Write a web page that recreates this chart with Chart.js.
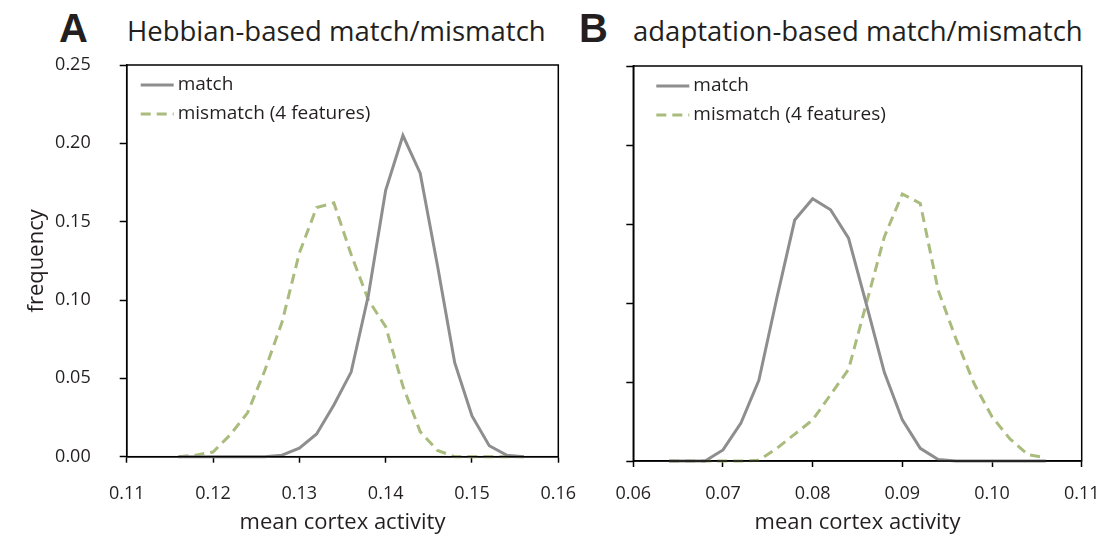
<!DOCTYPE html>
<html>
<head>
<meta charset="utf-8">
<script src="https://cdn.jsdelivr.net/npm/chart.js@4.4.1/dist/chart.umd.min.js"></script>
<style>
  body { margin: 0; background: #fff; width: 1104px; height: 537px; overflow: hidden; position: relative; font-family: "Open Sans", sans-serif; color: #231f20; }
  .panel { position: absolute; top: 0; height: 537px; }
  .letter { position: absolute; font-family: "Liberation Sans", Arial, sans-serif; font-weight: bold; font-size: 40px; line-height: 1.149; top: 6px; }
  .heading { position: absolute; font-size: 27.5px; line-height: 1.362; top: 12px; white-space: nowrap; }
</style>
</head>
<body>
<div class="letter" style="left:59px">A</div>
<div class="heading" style="left:127px">Hebbian-based match/mismatch</div>
<div class="letter" style="left:579px">B</div>
<div class="heading" style="left:633px">adaptation-based match/mismatch</div>

<div class="panel" style="left:0; width:580px;"><canvas id="chartA"></canvas></div>
<div class="panel" style="left:580px; width:524px;"><canvas id="chartB"></canvas></div>

<script>
// panel A: Hebbian-based
const hebbX = [0.116, 0.118, 0.120, 0.122, 0.124, 0.126, 0.128, 0.130, 0.132, 0.134, 0.136,
               0.138, 0.140, 0.142, 0.144, 0.146, 0.148, 0.150, 0.152, 0.154, 0.156];
const hebbMatch = [0, 0, 0, 0, 0, 0, 0.001, 0.0055, 0.0145, 0.033, 0.054,
                   0.103, 0.170, 0.205, 0.181, 0.122, 0.060, 0.026, 0.007, 0.001, 0];
const hebbMismatch = [0, 0.001, 0.003, 0.014, 0.028, 0.055, 0.086, 0.130, 0.159, 0.162, 0.129,
                      0.100, 0.083, 0.045, 0.016, 0.004, 0, 0, 0, 0, 0];
const hebbTicks = ['0.11', '0.12', '0.13', '0.14', '0.15', '0.16'];

// panel B: adaptation-based
const adaptX = [0.064, 0.066, 0.068, 0.070, 0.072, 0.074, 0.076, 0.078, 0.080, 0.082, 0.084,
                0.086, 0.088, 0.090, 0.092, 0.094, 0.096, 0.098, 0.100, 0.102, 0.104, 0.106];
const adaptMatch = [0, 0, 0, 0.007, 0.024, 0.051, 0.103, 0.1525, 0.166, 0.159, 0.141,
                    0.099, 0.056, 0.026, 0.008, 0.001, 0, 0, 0, 0, 0, 0];
const adaptMismatch = [0, 0, 0, 0, 0, 0.0005, 0.008, 0.017, 0.026, 0.042, 0.058,
                       0.100, 0.142, 0.169, 0.163, 0.108, 0.077, 0.049, 0.028, 0.014, 0.004, 0.002];
const adaptTicks = ['0.06', '0.07', '0.08', '0.09', '0.10', '0.11'];

const freqTicks = ['0.00', '0.05', '0.10', '0.15', '0.20', '0.25'];
const seriesNames = ['match', 'mismatch (4 features)'];

const ink = '#231f20';
const grayLine = '#8e8e8e';
const greenLine = '#a9bb7d';

// box around the plot + legend inside the plot (top left)
const framePlugin = {
    id: 'frame',
    afterDraw(chart, args, opts) {
        const a = chart.chartArea;
        const c = chart.ctx;
        c.save();
        c.strokeStyle = '#000';
        c.lineWidth = 1.5;
        c.strokeRect(a.left, a.top, a.right - a.left, a.bottom - a.top);

        c.font = '19px "Open Sans"';
        c.fillStyle = ink;
        c.textBaseline = 'middle';
        chart.data.datasets.forEach((ds, i) => {
            const y = a.top + 20 + i * 29;
            c.strokeStyle = ds.borderColor;
            c.lineWidth = ds.borderWidth;
            c.setLineDash(ds.borderDash || []);
            c.beginPath();
            c.moveTo(a.left + opts.lineStart, y);
            c.lineTo(a.left + opts.lineStart + 33, y);
            c.stroke();
            c.fillText(ds.label, a.left + opts.lineStart + 37, y);
        });
        c.restore();
    }
};

function pairs(xs, ys) {
    return xs.map((x, i) => ({ x: x, y: ys[i] }));
}

function makeChart(id, cfg) {
    return new Chart(document.getElementById(id), {
        type: 'line',
        data: {
            datasets: [{
                label: seriesNames[0],
                data: pairs(cfg.xs, cfg.match),
                borderColor: grayLine,
                borderWidth: 3,
                pointRadius: 0,
                tension: 0,
                clip: false
            }, {
                label: seriesNames[1],
                data: pairs(cfg.xs, cfg.mismatch),
                borderColor: greenLine,
                borderWidth: 3,
                borderDash: [10, 6],
                pointRadius: 0,
                tension: 0,
                clip: false
            }]
        },
        options: {
            responsive: true,
            maintainAspectRatio: false,
            animation: false,
            layout: { padding: { top: cfg.top, right: cfg.right, left: 0, bottom: 0 } },
            plugins: {
                legend: { display: false },
                tooltip: { enabled: false },
                frame: { lineStart: cfg.legendX }
            },
            scales: {
                x: {
                    type: 'linear',
                    min: cfg.xMin,
                    max: cfg.xMax,
                    afterFit: s => { s.height = cfg.xHeight; s.paddingLeft = 0; s.paddingRight = 0; },
                    afterBuildTicks: s => { s.ticks = cfg.tickVals.map(v => ({ value: v })); },
                    border: { display: true, color: '#000', width: 1.5 },
                    grid: { drawOnChartArea: false, drawTicks: true, tickLength: 6, tickColor: '#000', tickWidth: 1.5 },
                    ticks: {
                        padding: cfg.xPad,
                        color: ink,
                        font: { family: 'Open Sans', size: 18 },
                        maxRotation: 0,
                        callback: (v, i) => cfg.tickLabels[i]
                    },
                    title: {
                        display: true,
                        text: 'mean cortex activity',
                        color: ink,
                        font: { family: 'Open Sans', size: 22 },
                        padding: { top: 0, bottom: 1 }
                    }
                },
                y: {
                    min: 0,
                    max: 0.25,
                    afterFit: s => { s.width = cfg.yWidth; },
                    afterBuildTicks: s => { s.ticks = [0, 0.05, 0.10, 0.15, 0.20, 0.25].map(v => ({ value: v })); },
                    border: { display: true, color: '#000', width: 1.5 },
                    grid: { drawOnChartArea: false, drawTicks: true, tickLength: 7, tickColor: '#000', tickWidth: 1.5 },
                    ticks: {
                        display: cfg.yLabels,
                        padding: 29,
                        color: ink,
                        font: { family: 'Open Sans', size: 18 },
                        callback: (v, i) => freqTicks[i]
                    },
                    title: {
                        display: cfg.yLabels,
                        text: 'frequency',
                        color: ink,
                        font: { family: 'Open Sans', size: 22 },
                        padding: { top: 24, bottom: 0 }
                    }
                }
            }
        },
        plugins: [framePlugin]
    });
}

makeChart('chartA', {
    xs: hebbX, match: hebbMatch, mismatch: hebbMismatch,
    xMin: 0.11, xMax: 0.16, tickVals: [0.11, 0.12, 0.13, 0.14, 0.15, 0.16], tickLabels: hebbTicks,
    top: 65, right: 21.7, yWidth: 126.7, xHeight: 80.3, xPad: 20.5, yLabels: true, legendX: 14
});

makeChart('chartB', {
    xs: adaptX, match: adaptMatch, mismatch: adaptMismatch,
    xMin: 0.06, xMax: 0.11, tickVals: [0.06, 0.07, 0.08, 0.09, 0.10, 0.11], tickLabels: adaptTicks,
    top: 66, right: 22.3, yWidth: 53.3, xHeight: 76, xPad: 16, yLabels: false, legendX: 23
});
</script>
</body>
</html>
